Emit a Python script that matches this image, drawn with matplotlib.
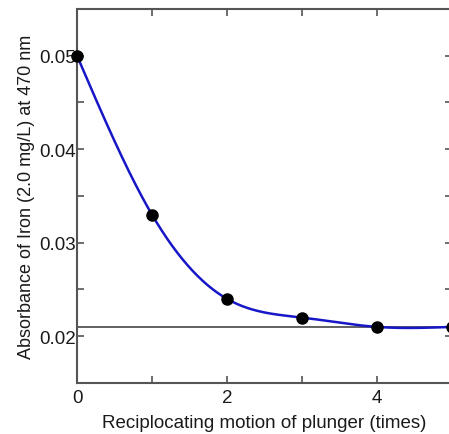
import numpy as np
import matplotlib
matplotlib.use("Agg")
import matplotlib.pyplot as plt
from matplotlib.ticker import MultipleLocator, FixedLocator

plt.rcParams['font.family'] = ['Liberation Sans', 'DejaVu Sans']

strokes = [0, 1, 2, 3, 4, 5]
absorbance = [0.050, 0.033, 0.024, 0.022, 0.021, 0.021]
baseline = 0.021
xticks = [0, 2, 4]
yticks = [0.02, 0.03, 0.04, 0.05]


def natural_spline(x, y, xs):
    x = np.asarray(x, float); y = np.asarray(y, float)
    n = len(x)
    h = np.diff(x)
    A = np.zeros((n, n)); b = np.zeros(n)
    A[0, 0] = 1; A[-1, -1] = 1
    for i in range(1, n - 1):
        A[i, i - 1] = h[i - 1]
        A[i, i] = 2 * (h[i - 1] + h[i])
        A[i, i + 1] = h[i]
        b[i] = 3 * ((y[i + 1] - y[i]) / h[i] - (y[i] - y[i - 1]) / h[i - 1])
    c = np.linalg.solve(A, b)
    out = np.empty_like(xs)
    for k, xv in enumerate(xs):
        i = min(max(np.searchsorted(x, xv) - 1, 0), n - 2)
        dx = xv - x[i]
        bi = (y[i + 1] - y[i]) / h[i] - h[i] * (2 * c[i] + c[i + 1]) / 3
        di = (c[i + 1] - c[i]) / (3 * h[i])
        out[k] = y[i] + bi * dx + c[i] * dx ** 2 + di * dx ** 3
    return out


fig = plt.figure(figsize=(4.49, 4.35), dpi=100)
ax = fig.add_axes([0.1715, 0.1172, 0.835, 0.860])

xs = np.linspace(strokes[0], strokes[-1], 300)
ys = natural_spline(strokes, absorbance, xs)

ax.axhline(baseline, color='#555555', lw=1.3, zorder=1)
ax.plot(xs, ys, color='#1717c8', lw=1.8, zorder=2)
ax.plot(strokes, absorbance, 'o', color='black', ms=8, zorder=3, clip_on=False)

ax.set_xlim(0, 5)
ax.set_ylim(0.015, 0.055)
ax.xaxis.set_major_locator(FixedLocator(xticks))
ax.xaxis.set_minor_locator(FixedLocator([1, 3]))
ax.yaxis.set_major_locator(FixedLocator(yticks))
ax.yaxis.set_minor_locator(MultipleLocator(0.005))
ax.set_xticklabels([str(t) for t in xticks])
ax.set_yticklabels(['%.2f' % t for t in yticks])

ax.tick_params(which='both', direction='in', top=True, right=True,
               color='#555555', labelsize=13.5, labelcolor='#1a1a1a')
ax.tick_params(axis='y', which='both', pad=1)
ax.tick_params(axis='x', which='both', pad=4)
ax.tick_params(which='major', length=5, width=1.2)
ax.tick_params(which='minor', length=5, width=1.2)
for s in ax.spines.values():
    s.set_color('#555555')
    s.set_linewidth(1.5)

ax.set_xlabel('Reciplocating motion of plunger (times)', fontsize=13.5, color='#1a1a1a', labelpad=6)
ax.set_ylabel('Absorbance of Iron (2.0 mg/L) at 470 nm', fontsize=13, color='#1a1a1a', labelpad=3)

fig.savefig('out.png', dpi=100)
